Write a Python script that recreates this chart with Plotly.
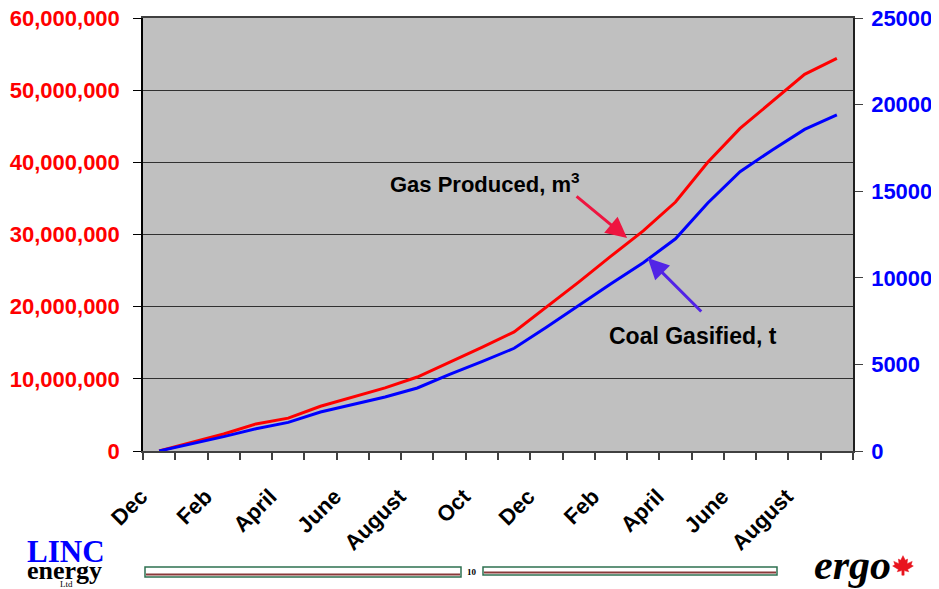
import plotly.graph_objects as go

# ---- data ----
months = ["Dec", "Jan", "Feb", "Mar", "April", "May", "June", "July", "August", "Sep", "Oct", "Nov",
          "Dec", "Jan", "Feb", "Mar", "April", "May", "June", "July", "August", "Sep"]
shown_labels = ["Dec", "", "Feb", "", "April", "", "June", "", "August", "", "Oct", "",
                "Dec", "", "Feb", "", "April", "", "June", "", "August", ""]
gas_m3 = [0, 1150000, 2350000, 3750000, 4550000, 6200000, 7450000, 8750000, 10250000,
          12250000, 14350000, 16500000, 19950000, 23400000, 27000000, 30500000, 34500000,
          40000000, 44700000, 48400000, 52200000, 54400000]
coal_t = [0, 400, 830, 1280, 1650, 2250, 2680, 3120, 3640, 4430, 5160, 5930, 7150, 8430,
          9660, 10870, 12250, 14320, 16130, 17380, 18570, 19400]
left_ticks = [0, 10000000, 20000000, 30000000, 40000000, 50000000, 60000000]
right_ticks = [0, 5000, 10000, 15000, 20000, 25000]

# page has an 8px body margin; compensate so the plot lands where the reference has it
OFF = 8
W, H = 939 - OFF, 589 - OFF
PL, PR, PT, PB = 143, 853, 18, 451          # plot area in page pixels
L, T = PL - OFF, PT - OFF
R, B = W - (PR - OFF), H - (PB - OFF)
pw, ph = PR - PL, PB - PT


def px(x, y):
    return (x - PL) / pw, (PB - y) / ph


xs = list(range(len(months)))
BOLD = dict(family="Arial, Liberation Sans, sans-serif", weight="bold")

fig = go.Figure()
fig.add_trace(go.Scatter(x=xs, y=gas_m3, mode="lines", line=dict(color="#FF0000", width=3),
                         yaxis="y", xaxis="x", showlegend=False))
fig.add_trace(go.Scatter(x=xs, y=coal_t, mode="lines", line=dict(color="#0000FF", width=3),
                         yaxis="y2", xaxis="x", showlegend=False))
fig.add_trace(go.Scatter(x=[xs[0]], y=[0], mode="markers", marker=dict(opacity=0),
                         xaxis="x2", yaxis="y", showlegend=False, hoverinfo="skip"))

rng = [-0.5, len(months) - 0.5]
fig.update_layout(
    width=W, height=H,
    margin=dict(l=L, r=R, t=T, b=B, autoexpand=False),
    paper_bgcolor="white", plot_bgcolor="#C0C0C0",
    font=dict(family="Arial, Liberation Sans, sans-serif"),
    xaxis=dict(range=rng, tickmode="array", tickvals=xs, ticktext=shown_labels,
               tickangle=-45, ticks="outside", ticklen=22, tickcolor="rgba(0,0,0,0)",
               ticklabelshift=-18, ticklabeloverflow="allow",
               tickfont=dict(size=22, color="black", **BOLD), automargin=False,
               showgrid=False, zeroline=False, showline=True, linecolor="#404040", linewidth=2,
               mirror=True),
    xaxis2=dict(range=rng, overlaying="x", tickmode="array",
                tickvals=[i - 0.5 for i in range(len(months) + 1)],
                ticktext=["" for _ in range(len(months) + 1)], automargin=False,
                ticks="outside", ticklen=8, tickcolor="#404040", tickwidth=1.5,
                showgrid=False, zeroline=False, showline=False, side="bottom"),
    yaxis=dict(range=[0, 60000000], tickmode="array", tickvals=left_ticks, automargin=False,
               tickformat=",d", ticks="outside", ticklen=8, tickcolor="black",
               ticklabelstandoff=9, ticklabeloverflow="allow",
               tickfont=dict(size=22, color="#FF0000", **BOLD),
               showgrid=True, gridcolor="#303030", gridwidth=1,
               zeroline=False, showline=True, linecolor="black", linewidth=1.5, mirror=True),
    yaxis2=dict(range=[0, 25000], overlaying="y", side="right", tickmode="array",
                tickvals=right_ticks, tickformat="d", ticks="outside", ticklen=8,
                tickcolor="#404040", automargin=False, ticklabelstandoff=4,
                ticklabeloverflow="allow",
                tickfont=dict(size=22, color="#0000FF", **BOLD),
                showgrid=False, zeroline=False, showline=True, linecolor="#202020", linewidth=1.5),
)

# arrows
fig.add_annotation(x=14.5, y=29500000, xref="x", yref="y", text="", showarrow=True,
                   arrowhead=2, arrowsize=1.4, arrowwidth=3, arrowcolor="#EE1540",
                   ax=-52, ay=-43)
fig.add_annotation(x=15.14, y=11140, xref="x", yref="y2", text="", showarrow=True,
                   arrowhead=2, arrowsize=1.4, arrowwidth=3, arrowcolor="#5224E6",
                   ax=55, ay=55)


def label(text, x, y, size, color, family, **kw):
    a, b = px(x, y)
    fig.add_annotation(x=a, y=b, xref="paper", yref="paper", showarrow=False, text=text,
                       xanchor="center", yanchor="middle",
                       font=dict(size=size, color=color, family=family), **kw)


SANS = "Arial, Liberation Sans, sans-serif"
SERIF = "Liberation Serif, Times New Roman, serif"
label("<b>Gas Produced, m<sup>3</sup></b>", 485, 183, 22, "black", SANS)
label("<b>Coal Gasified, t</b>", 693, 336, 23, "black", SANS)

# footer: logos
label("<b>LINC</b>", 66, 551, 31, "#0000FF", SERIF)
label("<b>energy</b>", 64, 570, 26, "black", SERIF)
label("Ltd", 66, 584, 9, "black", SERIF)
label("<b><i>ergo</i></b>", 852, 565, 42, "black", SERIF)
label("<b>10</b>", 472, 572, 9, "black", SERIF)

# footer bars
for x0, x1, y0, y1 in [(145, 461, 567, 577), (483, 777, 567, 575)]:
    a0, b0 = px(x0, y1)
    a1, b1 = px(x1, y0)
    fig.add_shape(type="rect", xref="paper", yref="paper", x0=a0, y0=b0, x1=a1, y1=b1,
                  line=dict(color="#2E7050", width=1.5), fillcolor="white")
    c0, d0 = px(x0 + 1, y1 - 2.5)
    c1, d1 = px(x1 - 1, y1 - 2.5)
    fig.add_shape(type="line", xref="paper", yref="paper", x0=c0, y0=d0, x1=c1, y1=d1,
                  line=dict(color="#8A3A3A", width=2))

# maple leaf
leaf = [(0, 9), (2, 5), (4, 6), (3.5, 2), (8, 4), (7, 1), (9, 0), (4, -3), (5, -5), (1, -4),
        (1, -8), (-1, -8), (-1, -4), (-5, -5), (-4, -3), (-9, 0), (-7, 1), (-8, 4), (-3.5, 2),
        (-4, 6), (-2, 5)]
cxl, cyl, sc = 903, 566, 1.15
pts = [px(cxl + dx * sc, cyl - dy * sc) for dx, dy in leaf]
path = "M " + " L ".join(f"{a:.5f},{b:.5f}" for a, b in pts) + " Z"
fig.add_shape(type="path", xref="paper", yref="paper", path=path,
              fillcolor="#E8141E", line=dict(color="#E8141E", width=0.5))

fig.write_html("out.html")
